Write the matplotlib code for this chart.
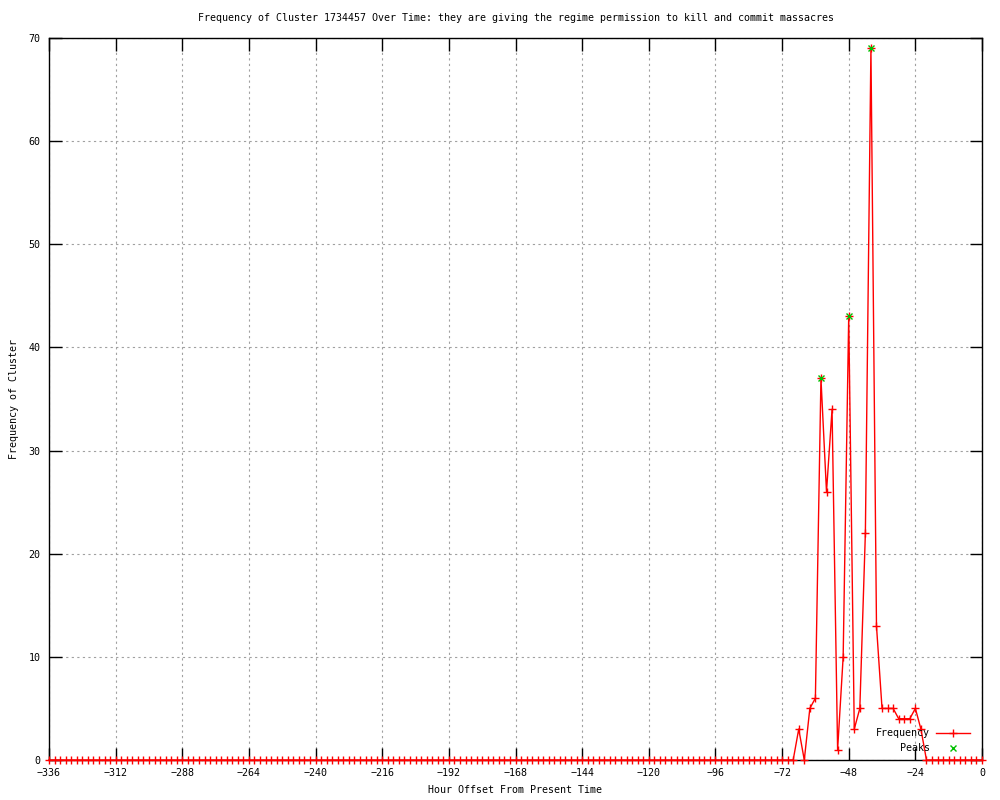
import numpy as np
import matplotlib
matplotlib.use("Agg")
import matplotlib.pyplot as plt

# hours before present, one sample every 2 hours
hours = list(range(-336, 1, 2))
freq = [0] * 134 + [0, 3, 0, 5, 6, 37, 26, 34, 1, 10, 43, 3, 5, 22, 69,
                    13, 5, 5, 5, 4, 4, 4, 5, 3,
                    0, 0, 0, 0, 0, 0, 0, 0, 0, 0, 0]
peak_hours = [-58, -48, -40]
peak_vals = [37, 43, 69]

xticks = list(range(-336, 1, 24))
yticks = list(range(0, 71, 10))

plt.rcParams["font.family"] = ["DejaVu Sans Mono"]
plt.rcParams["font.size"] = 7.2

fig = plt.figure(figsize=(10, 8), dpi=100)
ax = fig.add_axes([0.049, 0.05, 0.933, 0.9025])

ax.plot(hours, freq, color="#ff0000", lw=1, marker="+", ms=6, mew=1,
        label="Frequency", clip_on=False, zorder=3)
ax.plot(peak_hours, peak_vals, ls="none", color="#00c000", marker="x",
        ms=5, mew=1, label="Peaks", clip_on=False, zorder=4)

ax.set_xlim(-336, 0)
ax.set_ylim(0, 70)
ax.set_xticks(xticks)
ax.set_yticks(yticks)
ax.grid(True, color="#a0a0a0", ls=(0, (2, 3)), lw=0.8)
ax.tick_params(direction="in", length=9, width=1, top=True, right=True, pad=6)
for s in ax.spines.values():
    s.set_linewidth(1)

ax.set_title("Frequency of Cluster 1734457 Over Time: they are giving the regime permission to kill and commit massacres",
             fontsize=7.2, pad=12)
ax.set_xlabel("Hour Offset From Present Time", labelpad=5)
ax.set_ylabel("Frequency of Cluster", labelpad=7)

ax.legend(loc="lower right", bbox_to_anchor=(0.995, 0.0), frameon=False,
          markerfirst=False, handlelength=3.4, labelspacing=0.45,
          handletextpad=0.6, borderpad=0.2)

fig.savefig("out.png", dpi=100)
